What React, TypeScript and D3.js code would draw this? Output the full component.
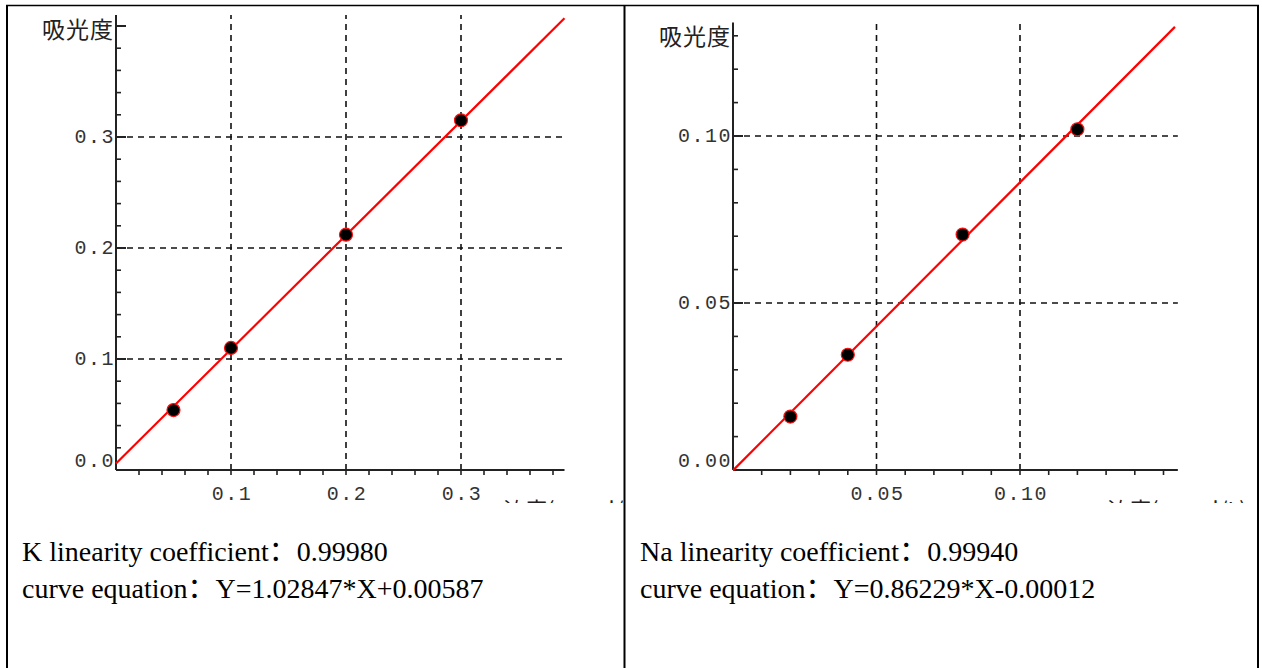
import React from 'react';
import * as d3 from 'd3';

// K standard points
const kConc = [0.05, 0.1, 0.2, 0.3];
const kAbs = [0.054, 0.11, 0.212, 0.315];
const kXTicks = [0.1, 0.2, 0.3];
const kXLabels = ['0.1', '0.2', '0.3'];
const kYTicks = [0.0, 0.1, 0.2, 0.3];
const kYLabels = ['0.0', '0.1', '0.2', '0.3'];

// Na standard points
const naConc = [0.02, 0.04, 0.08, 0.12];
const naAbs = [0.016, 0.0345, 0.0705, 0.102];
const naXTicks = [0.05, 0.1];
const naXLabels = ['0.05', '0.10'];
const naYTicks = [0.0, 0.05, 0.1];
const naYLabels = ['0.00', '0.05', '0.10'];

const yTitle = '吸光度';
const xTitle = '浓度(mmol/L)';

const captions = [
  ['K linearity coefficient：0.99980', 'curve equation：Y=1.02847*X+0.00587'],
  ['Na linearity coefficient：0.99940', 'curve equation：Y=0.86229*X-0.00012'],
];

const fits = [
  { slope: 1.02847, intercept: 0.00587 },
  { slope: 0.86229, intercept: -0.00012 },
];

type ChartCfg = {
  id: string;
  x: d3.ScaleLinear<number, number>;
  y: d3.ScaleLinear<number, number>;
  xMax: number;
  yMax: number;
  minorStep: number;
  xTicks: number[];
  xLabels: string[];
  yTicks: number[];
  yLabels: string[];
  extraMajor: number[];
  conc: number[];
  abs: number[];
  fit: { slope: number; intercept: number };
  lineEnd: number;
  titleX: number;
};

const Chart = ({ c }: { c: ChartCfg }) => {
  const x0 = c.x(0);
  const y0 = c.y(0);
  const xEnd = c.x(c.xMax);
  const yTop = c.y(c.yMax);
  const minorX = d3.range(c.minorStep, c.xMax, c.minorStep);
  const minorY = d3.range(c.minorStep, c.yMax, c.minorStep);
  const line = d3.line<number>()
    .x(d => c.x(d))
    .y(d => c.y(c.fit.slope * d + c.fit.intercept));
  const dash = { stroke: '#111', strokeWidth: 1.6, strokeDasharray: '6,5' };
  const mono = { fontFamily: '"Liberation Mono", monospace', fontSize: 20, fill: '#333', letterSpacing: 1.5 };

  return (
    <g clipPath={`url(#clip-${c.id})`}>
      {/* grid */}
      {c.yTicks.filter(v => v > 0).map(v => (
        <line key={`gy${v}`} x1={x0} x2={xEnd} y1={c.y(v)} y2={c.y(v)} {...dash} />
      ))}
      {c.xTicks.map(v => (
        <line key={`gx${v}`} x1={c.x(v)} x2={c.x(v)} y1={y0} y2={yTop} {...dash} />
      ))}
      {/* axes */}
      <line x1={x0} x2={x0} y1={y0} y2={yTop} stroke="#222" strokeWidth={2} />
      <line x1={x0} x2={xEnd} y1={y0} y2={y0} stroke="#222" strokeWidth={2} />
      {minorY.map(v => (
        <line key={`my${v}`} x1={x0} x2={x0 + 5} y1={c.y(v)} y2={c.y(v)} stroke="#222" strokeWidth={1.6} />
      ))}
      {[...c.yTicks, ...c.extraMajor].map(v => (
        <line key={`My${v}`} x1={x0} x2={x0 + 10} y1={c.y(v)} y2={c.y(v)} stroke="#222" strokeWidth={2} />
      ))}
      {minorX.map(v => (
        <line key={`mx${v}`} x1={c.x(v)} x2={c.x(v)} y1={y0} y2={y0 + 5} stroke="#222" strokeWidth={1.6} />
      ))}
      {/* labels */}
      {c.yTicks.map((v, i) => (
        <text key={`ly${v}`} x={x0 - 1} y={c.y(v) - (v === 0 ? 9 : 0)} textAnchor="end" dominantBaseline="central" style={mono}>
          {c.yLabels[i]}
        </text>
      ))}
      {c.xTicks.map((v, i) => (
        <text key={`lx${v}`} x={c.x(v) + 1} y={y0 + 24} textAnchor="middle" dominantBaseline="central" style={mono}>
          {c.xLabels[i]}
        </text>
      ))}
      <text x={x0 - 2} y={yTop + 13} textAnchor="end" dominantBaseline="central"
        style={{ fontFamily: '"Noto Sans CJK JP"', fontSize: 23, fill: '#222', letterSpacing: 1 }}>
        {yTitle}
      </text>
      <text x={c.titleX} y={y0 + 48}
        style={{ fontFamily: '"Noto Sans CJK JP"', fontSize: 22, fill: '#222' }}>
        {xTitle}
      </text>
      {/* fit line + points */}
      <path d={line([0, c.lineEnd]) || ''} fill="none" stroke="#ff0000" strokeWidth={2.2} />
      {c.conc.map((v, i) => (
        <circle key={`p${i}`} cx={c.x(v)} cy={c.y(c.abs[i])} r={6.5} fill="#000" stroke="#ff1010" strokeWidth={1.2} />
      ))}
    </g>
  );
};

const App = () => {
  const charts: ChartCfg[] = [
    {
      id: 'k',
      x: d3.scaleLinear().domain([0, 0.3]).range([116, 461]),
      y: d3.scaleLinear().domain([0, 0.3]).range([470, 137]),
      xMax: 0.39, yMax: 0.41, minorStep: 0.02,
      xTicks: kXTicks, xLabels: kXLabels, yTicks: kYTicks, yLabels: kYLabels,
      extraMajor: [0.4],
      conc: kConc, abs: kAbs, fit: fits[0], lineEnd: 0.39, titleX: 503,
    },
    {
      id: 'na',
      x: d3.scaleLinear().domain([0, 0.1]).range([733, 1020]),
      y: d3.scaleLinear().domain([0, 0.1]).range([470, 136]),
      xMax: 0.155, yMax: 0.134, minorStep: 0.01,
      xTicks: naXTicks, xLabels: naXLabels, yTicks: naYTicks, yLabels: naYLabels,
      extraMajor: [],
      conc: naConc, abs: naAbs, fit: fits[1], lineEnd: 0.154, titleX: 1107,
    },
  ];
  const cells = [[7, 624], [625, 1257]];

  return (
    <svg width={1262} height={668} style={{ position: 'absolute', left: 0, top: 0, background: '#fff' }}>
      <defs>
        <clipPath id="clip-k"><rect x={8} y={6} width={615} height={497} /></clipPath>
        <clipPath id="clip-na"><rect x={627} y={6} width={629} height={497} /></clipPath>
      </defs>
      <rect width={1262} height={668} fill="#fff" />
      {charts.map(c => <Chart key={c.id} c={c} />)}
      {captions.map((lines, i) => (
        <g key={`cap${i}`}>
          {lines.map((t, j) => (
            <text key={j} x={cells[i][0] + 15} y={561 + j * 37}
              style={{ fontFamily: '"Liberation Serif", "Noto Sans CJK SC", serif', fontSize: 28, fill: '#000' }}>
              {t}
            </text>
          ))}
        </g>
      ))}
      {/* table borders */}
      <line x1={6} x2={1259} y1={5.5} y2={5.5} stroke="#000" strokeWidth={1.5} />
      <line x1={7} x2={7} y1={5} y2={668} stroke="#000" strokeWidth={2} />
      <line x1={624.5} x2={624.5} y1={5} y2={668} stroke="#000" strokeWidth={2} />
      <line x1={1258} x2={1258} y1={5} y2={668} stroke="#000" strokeWidth={2} />
    </svg>
  );
};

export default App;
